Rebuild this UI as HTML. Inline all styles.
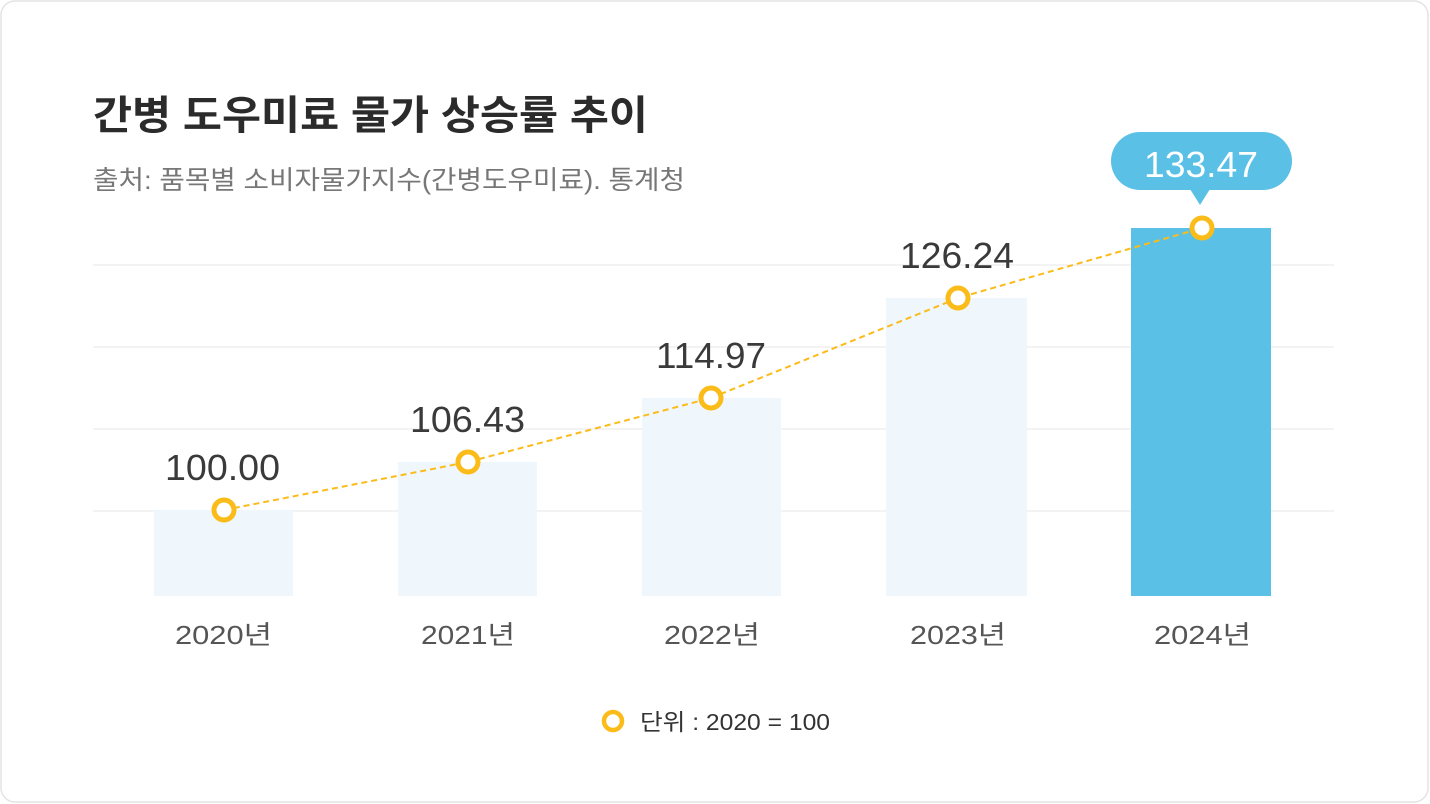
<!DOCTYPE html>
<html><head><meta charset="utf-8"><style>
html,body{margin:0;padding:0;background:#fff;}
body{width:1430px;height:804px;position:relative;overflow:hidden;font-family:"Liberation Sans","Noto Sans CJK KR",sans-serif;}
</style></head><body>
<svg width="1430" height="804" xmlns="http://www.w3.org/2000/svg" style="position:absolute;left:0;top:0">
<rect x="1" y="1" width="1427" height="801" rx="14" fill="#fff" stroke="#e3e3e3" stroke-width="1.5"/>
<text x="93" y="129" font-size="40" font-weight="bold" fill="#2b2b2b" font-family="Liberation Sans,Noto Sans CJK KR,sans-serif" textLength="555" lengthAdjust="spacingAndGlyphs">간병 도우미료 물가 상승률 추이</text>
<text x="93" y="189" font-size="26" fill="#777" font-family="Liberation Sans,Noto Sans CJK KR,sans-serif" textLength="592" lengthAdjust="spacingAndGlyphs">출처: 품목별 소비자물가지수(간병도우미료). 통계청</text>
<g stroke="#efefef" stroke-width="1.5">
<line x1="93" y1="265" x2="1334" y2="265"/><line x1="93" y1="347" x2="1334" y2="347"/>
<line x1="93" y1="429" x2="1334" y2="429"/><line x1="93" y1="511" x2="1334" y2="511"/>
</g>
<g fill="#eff7fd">
<rect x="154" y="510" width="139" height="86"/>
<rect x="398" y="462" width="139" height="134"/>
<rect x="642" y="398" width="139" height="198"/>
<rect x="886" y="298" width="141" height="298"/>
</g>
<rect x="1131" y="228" width="140" height="368" fill="#5bc0e6"/>
<polyline points="224,510 468,462 711,398 958,298 1202,228" fill="none" stroke="#fbbc1a" stroke-width="2" stroke-dasharray="6,4"/>
<g fill="#fff" stroke="#fbbc1a" stroke-width="5">
<circle cx="224" cy="510" r="10"/><circle cx="468" cy="462" r="10"/><circle cx="711" cy="398" r="10"/><circle cx="958" cy="298" r="10"/><circle cx="1202" cy="228" r="10"/>
</g>
<g font-size="36" fill="#3a3a3a" font-family="Liberation Sans,sans-serif">
<text x="165" y="480" textLength="115" lengthAdjust="spacingAndGlyphs">100.00</text>
<text x="410" y="432" textLength="115" lengthAdjust="spacingAndGlyphs">106.43</text>
<text x="656" y="368" textLength="110" lengthAdjust="spacingAndGlyphs">114.97</text>
<text x="900" y="268" textLength="114" lengthAdjust="spacingAndGlyphs">126.24</text>
</g>
<rect x="1111" y="132" width="181" height="58" rx="29" fill="#5bc0e6"/>
<polygon points="1190,189 1210,189 1200,205" fill="#5bc0e6"/>
<text x="1144" y="177" font-size="36" fill="#fff" font-family="Liberation Sans,sans-serif" textLength="114" lengthAdjust="spacingAndGlyphs">133.47</text>
<g font-size="26" fill="#555" font-family="Liberation Sans,Noto Sans CJK KR,sans-serif">
<text x="175" y="644" textLength="97" lengthAdjust="spacingAndGlyphs">2020년</text>
<text x="421" y="644" textLength="94" lengthAdjust="spacingAndGlyphs">2021년</text>
<text x="664" y="644" textLength="96" lengthAdjust="spacingAndGlyphs">2022년</text>
<text x="910" y="644" textLength="96" lengthAdjust="spacingAndGlyphs">2023년</text>
<text x="1154" y="644" textLength="97" lengthAdjust="spacingAndGlyphs">2024년</text>
</g>
<circle cx="613" cy="721" r="9" fill="#fff" stroke="#fbbc1a" stroke-width="4.5"/>
<text x="640" y="730" font-size="23" fill="#333" font-family="Liberation Sans,Noto Sans CJK KR,sans-serif" textLength="190" lengthAdjust="spacingAndGlyphs">단위 : 2020 = 100</text>
</svg>
</body></html>
